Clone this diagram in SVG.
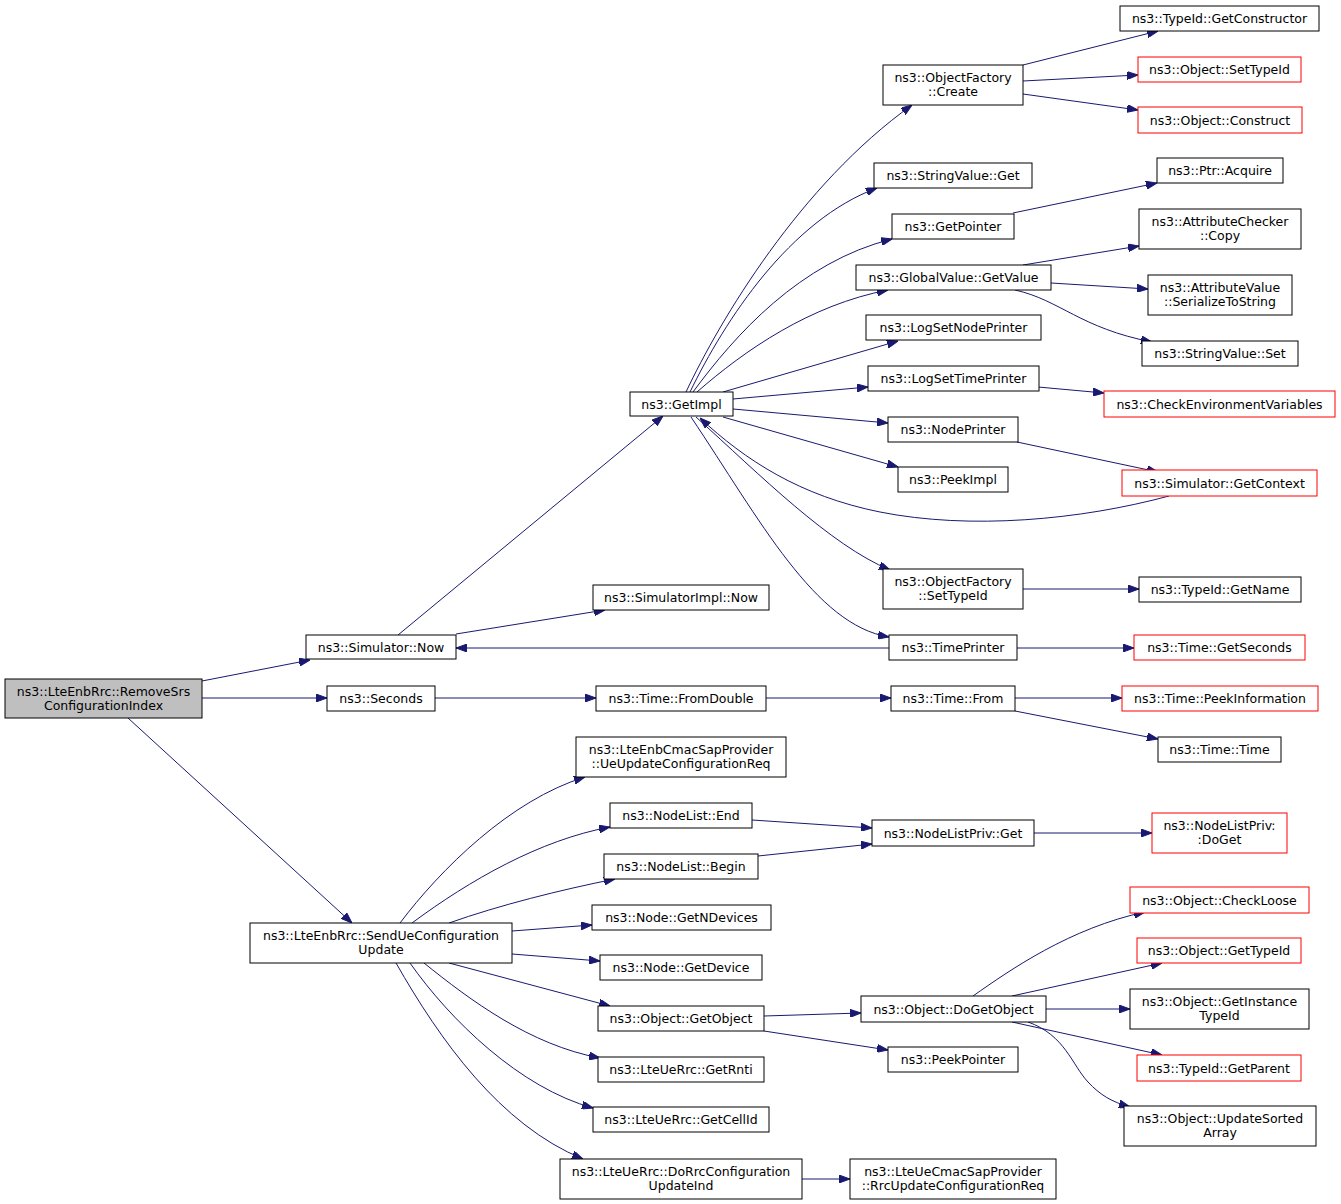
<svg xmlns="http://www.w3.org/2000/svg" width="1341" height="1204" viewBox="0 0 1341 1204">
<style>
rect{fill:#fff;stroke:#000;stroke-width:1}
.r rect{stroke:#f00}
.g rect{fill:#bfbfbf}
text{font-family:"DejaVu Sans","Liberation Sans",sans-serif;font-size:12.5px;text-anchor:middle;fill:#000}
#edges path{fill:none;stroke:#191970;stroke-width:1;marker-end:url(#a)}
</style>
<defs>
<marker id="a" markerUnits="userSpaceOnUse" markerWidth="11" markerHeight="8" viewBox="0 0 11 8" refX="11" refY="4" orient="auto">
<path d="M0,0 L11,4 L0,8 z" fill="#191970" stroke="#191970" stroke-width="1"/>
</marker>
</defs>
<rect x="0" y="0" width="1341" height="1204" style="fill:#fff;stroke:none"/>
<g id="edges">
<path d="M202,681 L310,660"/>
<path d="M202,698 L327,698"/>
<path d="M128,718 L352,923"/>
<path d="M398,635 L663,416"/>
<path d="M456,634 L605,610"/>
<path d="M889,648 L456,648"/>
<path d="M435,698 L596,698"/>
<path d="M766,698 L891,698"/>
<path d="M1015,698 L1122,698"/>
<path d="M1015,711 L1158,739"/>
<path d="M686,392 C720,320 800,185 912,105"/>
<path d="M690,392 C725,320 790,220 877,188"/>
<path d="M693,392 C735,335 800,262 892,239"/>
<path d="M697,392 C745,350 810,305 888,290"/>
<path d="M723,392 L898,341"/>
<path d="M733,399 L868,387"/>
<path d="M733,409 L888,423"/>
<path d="M723,417 L898,467"/>
<path d="M696,417 C760,475 830,545 890,570"/>
<path d="M691,417 C760,520 815,625 889,637"/>
<path d="M1169,496 C1080,520 970,530 880,512 C800,496 745,460 700,418"/>
<path d="M1017,442 L1158,472"/>
<path d="M1023,65 L1158,31"/>
<path d="M1023,81 L1138,75"/>
<path d="M1023,94 L1138,110"/>
<path d="M1013,213 L1157,183"/>
<path d="M1023,265 L1139,246"/>
<path d="M1051,283 L1148,289"/>
<path d="M1015,290 C1060,300 1080,328 1152,342"/>
<path d="M1038,387 L1104,393"/>
<path d="M1023,589 L1139,589"/>
<path d="M1017,648 L1134,648"/>
<path d="M400,923 C440,870 510,800 585,777"/>
<path d="M412,923 C470,880 540,840 610,827"/>
<path d="M449,923 C500,905 560,890 615,879"/>
<path d="M512,931 L592,925"/>
<path d="M512,954 L600,961"/>
<path d="M449,963 L610,1006"/>
<path d="M424,963 C470,1000 530,1045 600,1058"/>
<path d="M410,963 C450,1020 520,1088 593,1108"/>
<path d="M396,963 C440,1040 500,1125 583,1159"/>
<path d="M752,820 L872,828"/>
<path d="M758,856 L872,844"/>
<path d="M1034,833 L1152,833"/>
<path d="M764,1016 L861,1013"/>
<path d="M764,1031 L888,1050"/>
<path d="M802,1179 L850,1179"/>
<path d="M973,996 C1010,970 1070,928 1145,912"/>
<path d="M1012,996 L1162,963"/>
<path d="M1046,1009 L1130,1009"/>
<path d="M1012,1022 L1162,1055"/>
<path d="M1028,1022 C1065,1035 1072,1065 1088,1082 C1100,1095 1112,1102 1130,1107"/>
</g>
<g id="n0" class="g"><rect x="5" y="679" width="197" height="39"/><text x="103.5" y="695.5">ns3::LteEnbRrc::RemoveSrs</text><text x="103.5" y="709.5">ConfigurationIndex</text></g>
<g id="n1"><rect x="306" y="635" width="150" height="24"/><text x="381" y="651.5">ns3::Simulator::Now</text></g>
<g id="n2"><rect x="327" y="686" width="108" height="25"/><text x="381" y="703">ns3::Seconds</text></g>
<g id="n3"><rect x="250" y="923" width="262" height="40"/><text x="381" y="940">ns3::LteEnbRrc::SendUeConfiguration</text><text x="381" y="954">Update</text></g>
<g id="n4"><rect x="630" y="392" width="103" height="24"/><text x="681.5" y="408.5">ns3::GetImpl</text></g>
<g id="n5"><rect x="593" y="585" width="176" height="25"/><text x="681" y="602">ns3::SimulatorImpl::Now</text></g>
<g id="n6"><rect x="596" y="686" width="170" height="25"/><text x="681" y="703">ns3::Time::FromDouble</text></g>
<g id="n7"><rect x="576" y="737" width="210" height="40"/><text x="681" y="754">ns3::LteEnbCmacSapProvider</text><text x="681" y="768">::UeUpdateConfigurationReq</text></g>
<g id="n8"><rect x="610" y="803" width="142" height="25"/><text x="681" y="820">ns3::NodeList::End</text></g>
<g id="n9"><rect x="604" y="854" width="154" height="25"/><text x="681" y="871">ns3::NodeList::Begin</text></g>
<g id="n10"><rect x="592" y="905" width="179" height="25"/><text x="681.5" y="922">ns3::Node::GetNDevices</text></g>
<g id="n11"><rect x="600" y="955" width="162" height="25"/><text x="681" y="972">ns3::Node::GetDevice</text></g>
<g id="n12"><rect x="598" y="1006" width="166" height="25"/><text x="681" y="1023">ns3::Object::GetObject</text></g>
<g id="n13"><rect x="598" y="1057" width="166" height="25"/><text x="681" y="1074">ns3::LteUeRrc::GetRnti</text></g>
<g id="n14"><rect x="593" y="1107" width="176" height="25"/><text x="681" y="1124">ns3::LteUeRrc::GetCellId</text></g>
<g id="n15"><rect x="560" y="1159" width="242" height="40"/><text x="681" y="1176">ns3::LteUeRrc::DoRrcConfiguration</text><text x="681" y="1190">UpdateInd</text></g>
<g id="n16"><rect x="883" y="65" width="140" height="40"/><text x="953" y="82">ns3::ObjectFactory</text><text x="953" y="96">::Create</text></g>
<g id="n17"><rect x="874" y="163" width="158" height="25"/><text x="953" y="180">ns3::StringValue::Get</text></g>
<g id="n18"><rect x="892" y="214" width="122" height="25"/><text x="953" y="231">ns3::GetPointer</text></g>
<g id="n19"><rect x="856" y="265" width="195" height="25"/><text x="953.5" y="282">ns3::GlobalValue::GetValue</text></g>
<g id="n20"><rect x="866" y="315" width="175" height="25"/><text x="953.5" y="332">ns3::LogSetNodePrinter</text></g>
<g id="n21"><rect x="868" y="366" width="171" height="25"/><text x="953.5" y="383">ns3::LogSetTimePrinter</text></g>
<g id="n22"><rect x="888" y="417" width="130" height="25"/><text x="953" y="434">ns3::NodePrinter</text></g>
<g id="n23"><rect x="898" y="467" width="110" height="25"/><text x="953" y="484">ns3::PeekImpl</text></g>
<g id="n24"><rect x="883" y="569" width="140" height="40"/><text x="953" y="586">ns3::ObjectFactory</text><text x="953" y="600">::SetTypeId</text></g>
<g id="n25"><rect x="889" y="635" width="128" height="25"/><text x="953" y="652">ns3::TimePrinter</text></g>
<g id="n26"><rect x="891" y="686" width="124" height="25"/><text x="953" y="703">ns3::Time::From</text></g>
<g id="n27"><rect x="872" y="820" width="162" height="26"/><text x="953" y="837.5">ns3::NodeListPriv::Get</text></g>
<g id="n28"><rect x="861" y="996" width="185" height="26"/><text x="953.5" y="1013.5">ns3::Object::DoGetObject</text></g>
<g id="n29"><rect x="888" y="1047" width="130" height="25"/><text x="953" y="1064">ns3::PeekPointer</text></g>
<g id="n30"><rect x="850" y="1159" width="206" height="40"/><text x="953" y="1176">ns3::LteUeCmacSapProvider</text><text x="953" y="1190">::RrcUpdateConfigurationReq</text></g>
<g id="n31"><rect x="1120" y="6" width="199" height="25"/><text x="1219.5" y="23">ns3::TypeId::GetConstructor</text></g>
<g id="n32" class="r"><rect x="1138" y="57" width="163" height="25"/><text x="1219.5" y="74">ns3::Object::SetTypeId</text></g>
<g id="n33" class="r"><rect x="1138" y="107" width="164" height="26"/><text x="1220" y="124.5">ns3::Object::Construct</text></g>
<g id="n34"><rect x="1157" y="158" width="126" height="25"/><text x="1220" y="175">ns3::Ptr::Acquire</text></g>
<g id="n35"><rect x="1139" y="209" width="162" height="40"/><text x="1220" y="226">ns3::AttributeChecker</text><text x="1220" y="240">::Copy</text></g>
<g id="n36"><rect x="1148" y="275" width="144" height="40"/><text x="1220" y="292">ns3::AttributeValue</text><text x="1220" y="306">::SerializeToString</text></g>
<g id="n37"><rect x="1142" y="341" width="156" height="25"/><text x="1220" y="358">ns3::StringValue::Set</text></g>
<g id="n38" class="r"><rect x="1104" y="391" width="231" height="26"/><text x="1219.5" y="408.5">ns3::CheckEnvironmentVariables</text></g>
<g id="n39" class="r"><rect x="1122" y="470" width="195" height="26"/><text x="1219.5" y="487.5">ns3::Simulator::GetContext</text></g>
<g id="n40"><rect x="1139" y="577" width="162" height="25"/><text x="1220" y="594">ns3::TypeId::GetName</text></g>
<g id="n41" class="r"><rect x="1134" y="635" width="171" height="25"/><text x="1219.5" y="652">ns3::Time::GetSeconds</text></g>
<g id="n42" class="r"><rect x="1122" y="686" width="196" height="25"/><text x="1220" y="703">ns3::Time::PeekInformation</text></g>
<g id="n43"><rect x="1158" y="737" width="123" height="25"/><text x="1219.5" y="754">ns3::Time::Time</text></g>
<g id="n44" class="r"><rect x="1152" y="813" width="135" height="40"/><text x="1219.5" y="830">ns3::NodeListPriv:</text><text x="1219.5" y="844">:DoGet</text></g>
<g id="n45" class="r"><rect x="1130" y="887" width="179" height="26"/><text x="1219.5" y="904.5">ns3::Object::CheckLoose</text></g>
<g id="n46" class="r"><rect x="1137" y="938" width="164" height="25"/><text x="1219" y="955">ns3::Object::GetTypeId</text></g>
<g id="n47"><rect x="1130" y="989" width="179" height="40"/><text x="1219.5" y="1006">ns3::Object::GetInstance</text><text x="1219.5" y="1020">TypeId</text></g>
<g id="n48" class="r"><rect x="1137" y="1055" width="164" height="26"/><text x="1219" y="1072.5">ns3::TypeId::GetParent</text></g>
<g id="n49"><rect x="1124" y="1106" width="192" height="40"/><text x="1220" y="1123">ns3::Object::UpdateSorted</text><text x="1220" y="1137">Array</text></g>
</svg>
